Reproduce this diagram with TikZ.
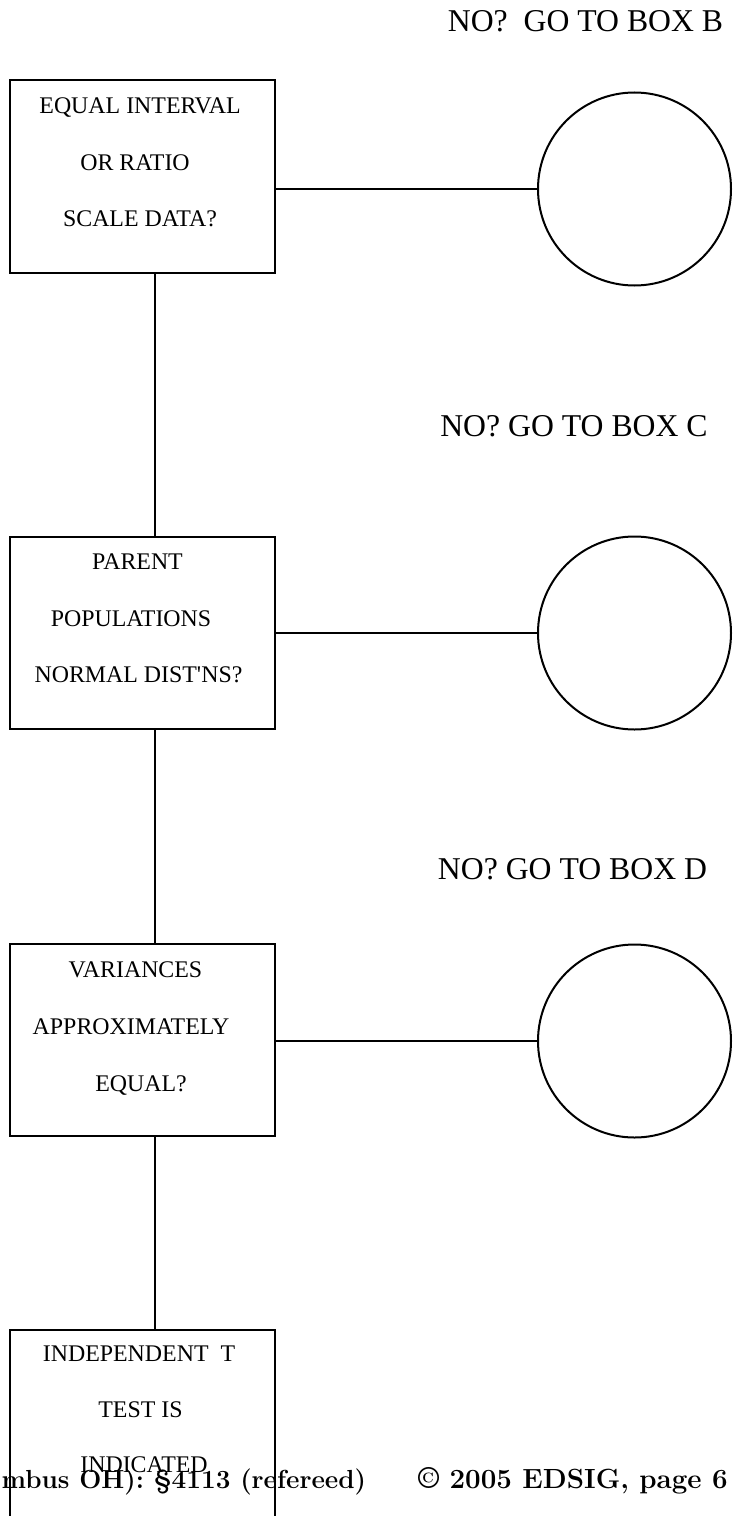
\documentclass[tikz,border=0pt]{standalone}
\usepackage{fontspec}
\newfontfamily\tnr{Liberation Serif}
\usetikzlibrary{calc}

\tikzset{
  box/.style={draw,line width=1.5pt,minimum width=198.75pt,minimum height=144pt,inner sep=0pt},
  ring/.style={draw,circle,line width=1.5pt,minimum size=144.75pt,inner sep=0pt},
  link/.style={line width=1.5pt},
  txt/.style={anchor=base,inner sep=0pt,font=\tnr\fontsize{17.9}{20}\selectfont},
  note/.style={anchor=base,inner sep=0pt,font=\tnr\fontsize{23.8}{26}\selectfont}
}

\begin{document}
\begin{tikzpicture}[x=0.75pt,y=-0.75pt]
\useasboundingbox (0,0) rectangle (736,1516);
% boxes down the left
\node[box] (boxA) at (142.5,176.5) {};
\node[box] (boxB) at (142.5,632.5) {};
\node[box] (boxC) at (142.5,1040) {};
\node[box,anchor=north] (boxD) at (142.5,1329) {};
% circles on the right
\node[ring] (circA) at (634.5,189) {};
\node[ring] (circB) at (634.5,633) {};
\node[ring] (circC) at (634.5,1041) {};
% box texts
\node[txt] (a1) at (140,114) {EQUAL INTERVAL};
\node[txt] (a2) at (135,171) {OR RATIO};
\node[txt] (a3) at (140,226) {SCALE DATA?};
\node[txt] (b1) at (137.5,569) {PARENT};
\node[txt] (b2) at (131,626) {POPULATIONS};
\node[txt] (b3) at (138.5,682) {NORMAL DIST'NS?};
\node[txt] (c1) at (135.5,977) {VARIANCES};
\node[txt] (c2) at (131,1034) {APPROXIMATELY};
\node[txt] (c3) at (141,1091) {EQUAL?};
\node[txt] (d1) at (139,1361) {INDEPENDENT\ \ T};
\node[txt] (d2) at (140.5,1417) {TEST IS};
\node[txt] (d3) at (144,1472) {INDICATED};
% the "no" notes
\node[note] (noB) at (585.5,32) {NO?\ \ GO TO BOX B};
\node[note] (noC) at (574,436) {NO? GO TO BOX C};
\node[note] (noD) at (572.5,879) {NO? GO TO BOX D};
% connectors
\draw[link] ([xshift=9pt]boxA.south) -- ([xshift=9pt]boxB.north);
\draw[link] ([xshift=9pt]boxB.south) -- ([xshift=9pt]boxC.north);
\draw[link] ([xshift=9pt]boxC.south) -- ([xshift=9pt]boxD.north);
\draw[link] (circA.west -| boxA.east) -- (circA.west);
\draw[link] (circB.west -| boxB.east) -- (circB.west);
\draw[link] (circC.west -| boxC.east) -- (circC.west);
% footer line
\node[anchor=base east,inner sep=0pt,font=\bfseries\fontsize{19.6}{22}\selectfont] (foot) at (728,1488)
  {mbus OH): \S4113 (refereed)\hspace{39pt}{\fontsize{20.8}{22}\selectfont{\fontsize{23}{22}\selectfont\textcopyright}\ 2005 EDSIG, page 6}};
\end{tikzpicture}
\end{document}
